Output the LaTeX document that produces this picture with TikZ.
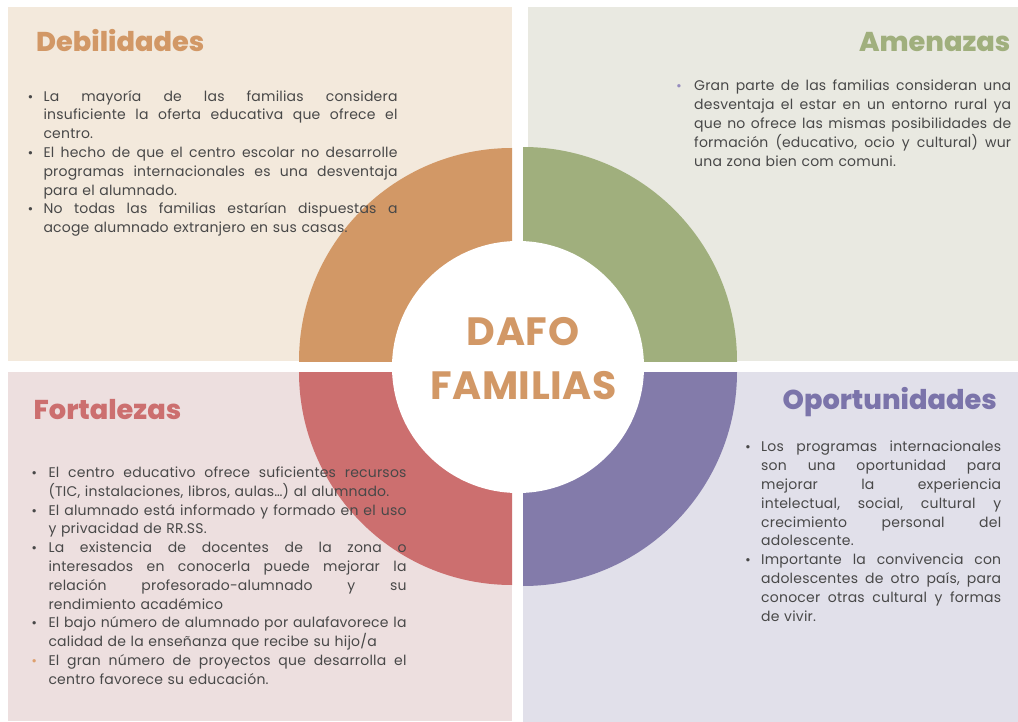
\documentclass[tikz,border=0pt]{standalone}
\usepackage{fontspec}
\setmainfont{Poppins}
\newfontfamily\bodyfont{Poppins}[LetterSpace=1.5]
\newfontfamily\titlefont{Poppins ExtraBold}
\newfontfamily\centerfont{Poppins}[LetterSpace=1.5]
\newfontfamily\bulfont{DejaVu Sans}
\definecolor{panelA}{RGB}{243,233,220}
\definecolor{panelB}{RGB}{233,233,225}
\definecolor{panelC}{RGB}{237,223,223}
\definecolor{panelD}{RGB}{225,224,234}
\definecolor{orangeR}{RGB}{210,152,102}
\definecolor{greenR}{RGB}{160,175,125}
\definecolor{redR}{RGB}{204,111,111}
\definecolor{purpleR}{RGB}{131,123,170}
\definecolor{purpleT}{RGB}{123,116,170}
\definecolor{bodygrey}{RGB}{72,72,72}
\definecolor{amebul}{RGB}{150,140,190}
\definecolor{fortbul}{RGB}{222,160,110}
\frenchspacing
\newcommand\JL[1]{\noindent\hbox to\hsize{\spaceskip=\fontdimen2\font plus 1fil\relax\rule{0pt}{12pt}#1}\par}
\newcommand\LL[1]{\noindent\hbox{\rule{0pt}{12pt}#1}\par}
\newcommand\BU[2]{\llap{\makebox[#2][l]{\textcolor{#1}{\bulfont\fontsize{11.5}{11}\selectfont •}}}}
\tikzset{
  titletxt/.style={inner sep=0pt, font=\titlefont\fontsize{27.2}{30}\selectfont},
  bodytxt/.style={inner sep=0pt, anchor=north west, text=bodygrey, font=\bodyfont\fontsize{14}{18.8}\selectfont},
  centertxt/.style={inner sep=0pt, anchor=base, text=orangeR, font=\centerfont\fontsize{39.5}{44}\selectfont\bfseries},
}
\begin{document}
\begin{tikzpicture}[x=1pt,y=-1pt]
\useasboundingbox (0,0) rectangle (1018,722);
\fill[white] (0,0) rectangle (1018,722);
% panels
\fill[panelA] (8,7) rectangle (512,361);
\fill[panelB] (528,7) rectangle (1018,361);
\fill[panelC] (8,372) rectangle (512,721);
\fill[panelD] (523,372) rectangle (1018,722);
% quarter rings
\begin{scope}\clip (299,148) rectangle (512,361); \fill[orangeR] (512,361) circle[radius=213];\end{scope}
\begin{scope}\clip (523,148) rectangle (737,361); \fill[greenR] (523,361) circle[radius=214];\end{scope}
\begin{scope}\clip (299,372) rectangle (512,585); \fill[redR] (512,372) circle[radius=213];\end{scope}
\begin{scope}\clip (523,372) rectangle (738,587); \fill[purpleR] (523,372) circle[radius=214];\end{scope}
\fill[white] (518,367) circle[radius=126];
% center text
\node[centertxt] (dafo) at (523,345) {DAFO};
\node[centertxt] (familias) at (523.5,399) {FAMILIAS};
% titles
\node[titletxt, anchor=base west, text=orangeR] (tdeb) at (36,52) {Debilidades};
\node[titletxt, anchor=base east, text=greenR] (tame) at (1010.5,52) {Amenazas};
\node[titletxt, anchor=base west, text=redR] (tfor) at (33.5,419) {Fortalezas};
\node[titletxt, anchor=base east, text=purpleT] (topo) at (997,409) {Oportunidades};
% bodies
\node[bodytxt, text width=354pt] (bdeb) at (43.3,89) {%
\JL{\BU{bodygrey}{16.5pt}La mayoría de las familias considera}
\JL{insuficiente la oferta educativa que ofrece el}
\LL{centro.}
\JL{\BU{bodygrey}{16.5pt}El hecho de que el centro escolar no desarrolle}
\JL{programas internacionales es una desventaja}
\LL{para el alumnado.}
\JL{\BU{bodygrey}{16.5pt}No todas las familias estarían dispuestas a}
\LL{acoge alumnado extranjero en sus casas.}};
\node[bodytxt, text width=317pt] (bame) at (694,78.7) {%
\JL{\BU{amebul}{18.5pt}Gran parte de las familias consideran una}
\JL{desventaja el estar en un entorno rural ya}
\JL{que no ofrece las mismas posibilidades de}
\JL{formación (educativo, ocio y cultural) wur}
\LL{una zona bien com comuni.}};
\node[bodytxt, text width=358pt] (bfor) at (48.3,465.3) {%
\JL{\BU{bodygrey}{17.5pt}El centro educativo ofrece suficientes recursos}
\LL{(TIC, instalaciones, libros, aulas…) al alumnado.}
\JL{\BU{bodygrey}{17.5pt}El alumnado está informado y formado en el uso}
\LL{y privacidad de RR.SS.}
\JL{\BU{bodygrey}{17.5pt}La existencia de docentes de la zona o}
\JL{interesados en conocerla puede mejorar la}
\JL{relación profesorado-alumnado y su}
\LL{rendimiento académico}
\JL{\BU{bodygrey}{17.5pt}El bajo número de alumnado por aulafavorece la}
\LL{calidad de la enseñanza que recibe su hijo/a}
\JL{\BU{fortbul}{17.5pt}El gran número de proyectos que desarrolla el}
\LL{centro favorece su educación.}};
\node[bodytxt, text width=240pt] (bopo) at (761,439.7) {%
\JL{\BU{bodygrey}{16.5pt}Los programas internacionales}
\JL{son una oportunidad para}
\JL{mejorar la experiencia}
\JL{intelectual, social, cultural y}
\JL{crecimiento personal del}
\LL{adolescente.}
\JL{\BU{bodygrey}{16.5pt}Importante la convivencia con}
\JL{adolescentes de otro país, para}
\JL{conocer otras cultural y formas}
\LL{de vivir.}};
\end{tikzpicture}
\end{document}
